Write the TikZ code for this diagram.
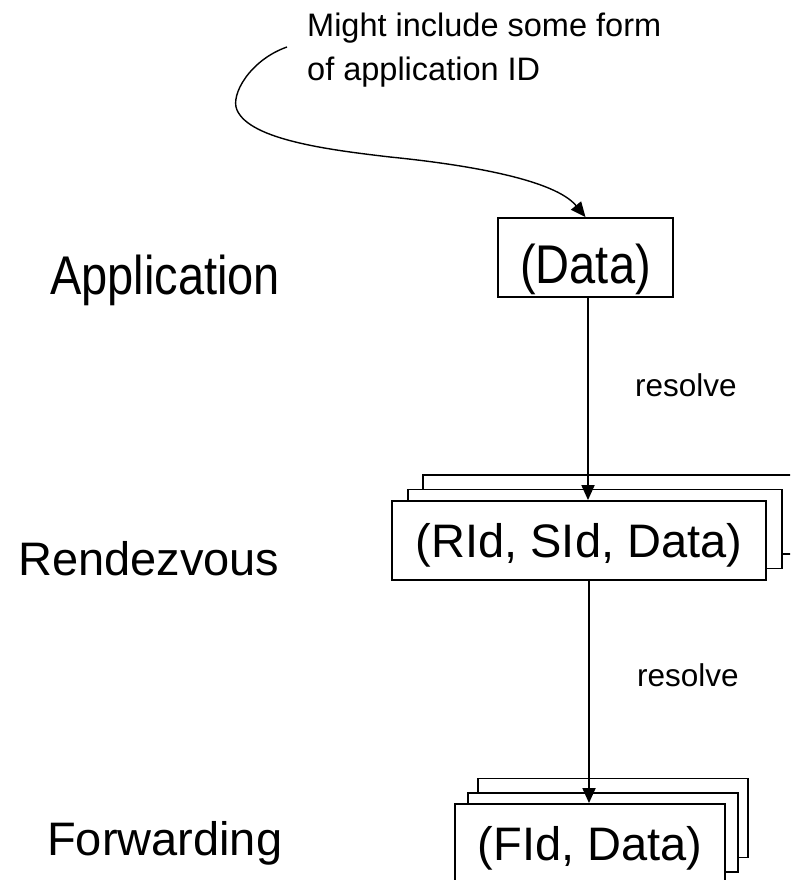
\documentclass[tikz,border=0pt]{standalone}
\usepackage{fontspec}
\setmainfont{Liberation Sans}
\usetikzlibrary{arrows.meta}
\newcommand{\tallish}[1]{\scalebox{1}[1.16]{#1}}
\begin{document}
\begin{tikzpicture}[x=1pt,y=-1pt,
  lw/.style={line width=1.8pt},
  boxnode/.style={draw,lw,fill=white,inner sep=0pt,minimum height=79pt,font=\fontsize{47}{56}\selectfont},
  lbl/.style={anchor=base west,inner sep=0pt,font=\fontsize{47}{56}\selectfont},
  small/.style={anchor=base west,inner sep=0pt,font=\fontsize{31.5}{40}\selectfont},
  arr/.style={lw,-{Triangle[length=15pt,width=13pt]}}
]
\clip (0,0) rectangle (790,880);
\fill[white] (0,0) rectangle (790,880);

% annotation
\node[small,font=\fontsize{32.5}{40}\selectfont] (ann1) at (307,37) {Might include some form};
\node[small,font=\fontsize{32.5}{40}\selectfont] (ann2) at (307,81) {of application ID};

% layer labels
\node[lbl] (lapp) at (50,294) {\tallish{Application}};
\node[lbl] (lren) at (18,575) {Rendezvous};
\node[lbl] (lfwd) at (47,855) {Forwarding};

% application box
\node[boxnode,minimum width=175pt,text height=65pt,text depth=14pt] (data) at (585.5,257.5) {\tallish{(Data)}};

% rendezvous stack
\node[boxnode,minimum width=374pt] (rback) at (610,514.5) {};
\node[boxnode,minimum width=374pt] (rmid) at (595,529) {};
\node[boxnode,minimum width=374pt,text height=56pt,text depth=23pt] (rfront) at (579,540.5) {(RId, SId, Data)};

% forwarding stack
\node[boxnode,minimum width=270pt] (fback) at (613,818) {};
\node[boxnode,minimum width=270pt] (fmid) at (603,832.5) {};
\node[boxnode,minimum width=270pt,text height=56pt,text depth=23pt] (ffront) at (590,843.5) {(FId, Data)};

% resolve labels
\node[small] (res1) at (635,396) {resolve};
\node[small] (res2) at (637,686) {resolve};

% connectors
\coordinate (ax) at (588,0);
\coordinate (bx) at (589,0);
\draw[arr] (data.south -| ax) -- (rfront.north -| ax);
\draw[arr] (rfront.south -| bx) -- (ffront.north -| bx);

\coordinate (cs) at (287,47);
\draw[arr,line width=1.4pt] (cs) .. controls (250,60) and (230,95) .. (237,110)
  .. controls (250,140) and (330,150) .. (390,157)
  .. controls (470,165) and (555,180) .. (data.north);
\end{tikzpicture}
\end{document}
